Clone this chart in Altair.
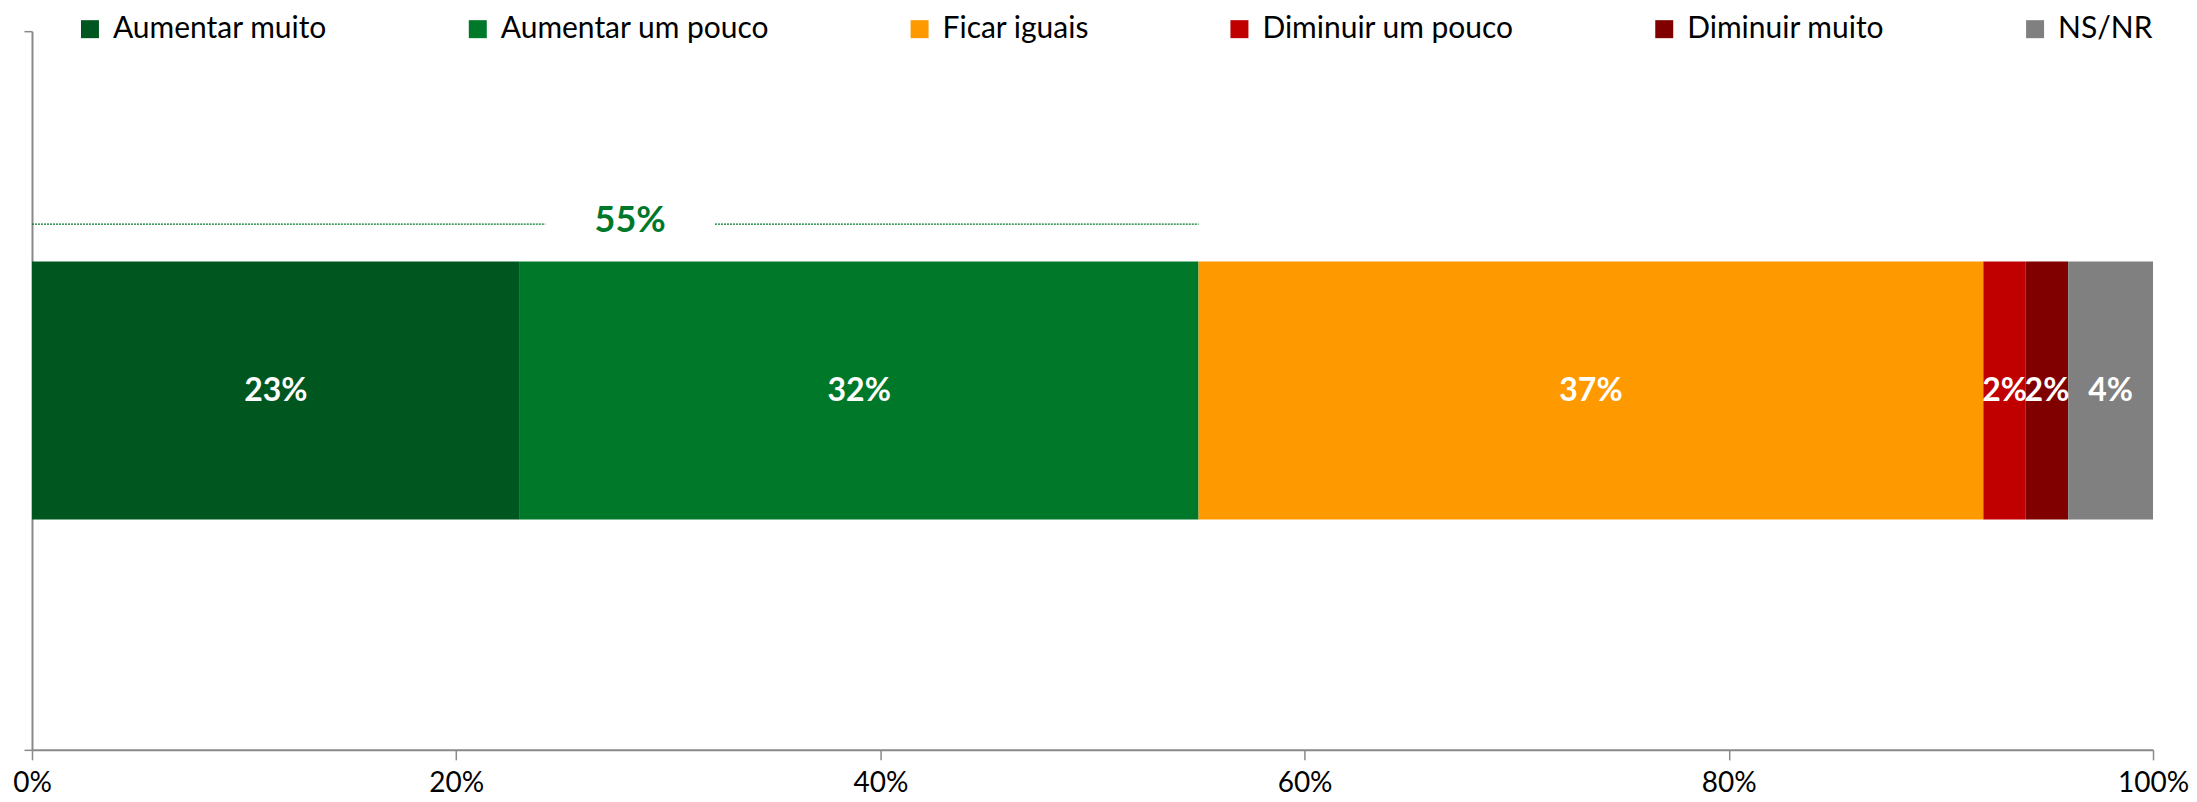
import altair as alt
import pandas as pd

categories = ["Aumentar muito", "Aumentar um pouco", "Ficar iguais",
              "Diminuir um pouco", "Diminuir muito", "NS/NR"]
values = [23, 32, 37, 2, 2, 4]
colors = ["#00561F", "#00782A", "#FF9900", "#C00000", "#800000", "#808080"]
x_ticks = [0, 20, 40, 60, 80, 100]

bracket_label = ["55%"]
bracket_label_pos = [28.2]
bracket_start = [0, 32.2]
bracket_end = [24.2, 55]

FONT = "Lato"

starts, ends, mids = [], [], []
acc = 0
for v in values:
    starts.append(acc)
    ends.append(acc + v)
    mids.append(acc + v / 2)
    acc += v

df = pd.DataFrame({
    "cat": categories,
    "val": values,
    "start": starts,
    "end": ends,
    "mid": mids,
    "label": [f"{v}%" for v in values],
    "ord": list(range(len(categories))),
    "row": ["Q"] * len(categories),
})
seg = pd.DataFrame({"s": bracket_start, "e": bracket_end})
lab = pd.DataFrame({"x": bracket_label_pos, "t": bracket_label})

xscale = alt.Scale(domain=[0, 100], nice=False, zero=True)
yscale = alt.Scale(paddingInner=0, paddingOuter=0)

bars = alt.Chart(df).mark_bar(size=258).encode(
    x=alt.X("start:Q", scale=xscale,
            axis=alt.Axis(values=x_ticks, labelExpr="datum.value + '%'", title=None,
                          grid=False, domainColor="#898989", domainWidth=2,
                          tickColor="#898989", tickSize=10, tickWidth=1.5,
                          labelFont=FONT, labelFontSize=28, labelColor="#000000",
                          labelPadding=10, labelFlush=False)),
    x2="end:Q",
    y=alt.Y("row:N", scale=yscale, title=None,
            axis=alt.Axis(labels=False, ticks=True, tickBand="extent", tickSize=8,
                          tickColor="#898989", tickWidth=1.5, domainColor="#898989",
                          domainWidth=2, grid=False)),
    color=alt.Color("cat:N", scale=alt.Scale(domain=categories, range=colors),
                    legend=alt.Legend(orient="none", legendX=43, legendY=-17,
                                      direction="horizontal", columns=6, title=None,
                                      symbolType="square", symbolSize=324,
                                      symbolStrokeWidth=0, symbolOpacity=1,
                                      labelFont=FONT, labelFontSize=30,
                                      labelColor="#000000", labelLimit=400,
                                      gridAlign="each", columnPadding=135,
                                      labelOffset=8)),
    order="ord:Q",
)

texts = alt.Chart(df).mark_text(color="white", font=FONT, fontSize=32,
                                fontWeight="bold", baseline="middle").encode(
    x=alt.X("mid:Q", scale=xscale),
    y=alt.Y("row:N", scale=yscale),
    text="label:N",
)

rules = alt.Chart(seg).mark_rule(color="#00782A", strokeWidth=1.2,
                                 strokeDash=[2, 1]).encode(
    x=alt.X("s:Q", scale=xscale),
    x2="e:Q",
    y=alt.value(193),
)

blabel = alt.Chart(lab).mark_text(color="#00782A", font=FONT, fontSize=36,
                                  fontWeight="bold", baseline="middle", dy=-3).encode(
    x=alt.X("x:Q", scale=xscale),
    y=alt.value(193),
    text="t:N",
)

chart = alt.layer(bars, texts, rules, blabel).properties(
    width=2122, height=719,
    background="white",
    autosize=alt.AutoSizeParams(type="none"),
    padding={"left": 24, "top": 23, "right": 36, "bottom": 50},
).configure_view(stroke=None)

chart.save("out.html", embed_options={"renderer": "svg", "actions": False})
